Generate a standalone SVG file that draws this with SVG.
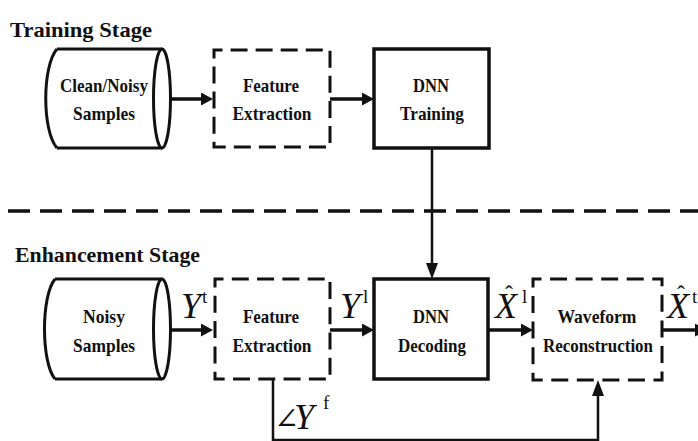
<svg xmlns="http://www.w3.org/2000/svg" width="698" height="441" viewBox="0 0 698 441">
<style>
.lbl{font-family:"Liberation Serif",serif;font-weight:bold;font-size:19px;fill:#111;text-anchor:middle}
.title{font-family:"Liberation Serif",serif;font-weight:bold;font-size:22px;fill:#111}
.math{font-family:"Liberation Serif",serif;font-style:italic;font-size:36px;fill:#111}
.sup{font-style:normal;font-size:19px}
.hat{font-style:normal;font-size:24px}
.solid{fill:none;stroke:#111;stroke-width:3.5}
.cyl{fill:none;stroke:#111;stroke-width:3}
.dash{fill:none;stroke:#111;stroke-width:3}
.thick{fill:none;stroke:#111;stroke-width:3.5}
.thin{fill:none;stroke:#111;stroke-width:2.5}
</style>
<defs>
<marker id="ah" markerUnits="userSpaceOnUse" markerWidth="13" markerHeight="13" refX="0" refY="6.5" orient="auto">
<path d="M0,0 L12,6.5 L0,13 Z" fill="#111"/>
</marker>
<marker id="ahl" markerUnits="userSpaceOnUse" markerWidth="16" markerHeight="12" refX="0" refY="6" orient="auto">
<path d="M0,0 L16,6 L0,12 Z" fill="#111"/>
</marker>
</defs>

<rect width="698" height="441" fill="#fff"/>

<text class="title" x="10" y="37" textLength="142" lengthAdjust="spacingAndGlyphs">Training Stage</text>
<text class="title" x="15" y="262" textLength="185" lengthAdjust="spacingAndGlyphs">Enhancement Stage</text>

<line x1="8" y1="211" x2="698" y2="211" stroke="#111" stroke-width="3.5" stroke-dasharray="22 10"/>

<g id="clean-noisy-samples">
<path class="cyl" d="M57,49 L162,49 M57,148 L162,148 M57,49 C42,66 42,131 57,148"/>
<ellipse class="cyl" cx="162" cy="98.5" rx="8.5" ry="49.5"/>
<text class="lbl" x="104" y="92" textLength="88" lengthAdjust="spacingAndGlyphs">Clean/Noisy</text>
<text class="lbl" x="104" y="120" textLength="62" lengthAdjust="spacingAndGlyphs">Samples</text>
</g>

<g id="feature-extraction-train">
<rect class="dash" x="214" y="50" width="116" height="97" stroke-dasharray="17 8.0588" stroke-dashoffset="8.5"/>
<text class="lbl" x="271" y="92" textLength="56" lengthAdjust="spacingAndGlyphs">Feature</text>
<text class="lbl" x="272" y="120" textLength="79" lengthAdjust="spacingAndGlyphs">Extraction</text>
</g>

<g id="dnn-training">
<rect class="solid" x="374" y="49" width="115" height="99"/>
<text class="lbl" x="431" y="92" textLength="36" lengthAdjust="spacingAndGlyphs">DNN</text>
<text class="lbl" x="432" y="120" textLength="64" lengthAdjust="spacingAndGlyphs">Training</text>
</g>

<g id="noisy-samples">
<path class="cyl" d="M55,279 L162,279 M55,379 L162,379 M55,279 C41,296 41,362 55,379"/>
<ellipse class="cyl" cx="162" cy="329" rx="8.5" ry="50"/>
<text class="lbl" x="104" y="323" textLength="42" lengthAdjust="spacingAndGlyphs">Noisy</text>
<text class="lbl" x="104" y="352" textLength="62" lengthAdjust="spacingAndGlyphs">Samples</text>
</g>

<g id="feature-extraction-enh">
<rect class="dash" x="215" y="279" width="115" height="100" stroke-dasharray="17 8.294" stroke-dashoffset="8.5"/>
<text class="lbl" x="271" y="323" textLength="56" lengthAdjust="spacingAndGlyphs">Feature</text>
<text class="lbl" x="272" y="352" textLength="79" lengthAdjust="spacingAndGlyphs">Extraction</text>
</g>

<g id="dnn-decoding">
<rect class="solid" x="374" y="279" width="114" height="100"/>
<text class="lbl" x="431" y="323" textLength="36" lengthAdjust="spacingAndGlyphs">DNN</text>
<text class="lbl" x="432" y="352" textLength="68" lengthAdjust="spacingAndGlyphs">Decoding</text>
</g>

<g id="waveform-reconstruction">
<rect class="dash" x="533" y="279" width="129" height="101" stroke-dasharray="17 8.556" stroke-dashoffset="8.5"/>
<text class="lbl" x="597" y="323" textLength="79" lengthAdjust="spacingAndGlyphs">Waveform</text>
<text class="lbl" x="598" y="352" textLength="110" lengthAdjust="spacingAndGlyphs">Reconstruction</text>
</g>

<g id="connectors">
<line class="thick" x1="170" y1="99" x2="201" y2="99" marker-end="url(#ah)"/>
<line class="thick" x1="330" y1="99" x2="362" y2="99" marker-end="url(#ah)"/>
<line class="thin" x1="432" y1="148" x2="432" y2="263" marker-end="url(#ahl)"/>
<line class="thick" x1="170" y1="330" x2="201" y2="330" marker-end="url(#ah)"/>
<line class="thick" x1="330" y1="330" x2="362" y2="330" marker-end="url(#ah)"/>
<line class="thick" x1="488" y1="330" x2="521" y2="330" marker-end="url(#ah)"/>
<line class="thick" x1="662" y1="330" x2="695" y2="330" marker-end="url(#ah)"/>
<polyline class="thin" points="273,379 273,440 598,440 598,396" marker-end="url(#ahl)"/>
</g>

<g id="labels">
<text class="math"><tspan x="181" y="318">Y</tspan><tspan class="sup" x="202" y="303">t</tspan></text>
<text class="math"><tspan x="340" y="318">Y</tspan><tspan class="sup" x="363" y="303">l</tspan></text>
<text class="math"><tspan x="495" y="318">X</tspan><tspan class="hat" x="505" y="302">ˆ</tspan><tspan class="sup" x="522" y="303">l</tspan></text>
<text class="math"><tspan x="667" y="318">X</tspan><tspan class="hat" x="677" y="302">ˆ</tspan><tspan class="sup" x="692" y="303">t</tspan></text>
<text class="math"><tspan font-family="DejaVu Serif, serif" font-style="normal" font-size="30" x="274" y="429">∠</tspan><tspan x="294" y="429">Y</tspan><tspan class="sup" x="323" y="409">f</tspan></text>
</g>
</svg>
